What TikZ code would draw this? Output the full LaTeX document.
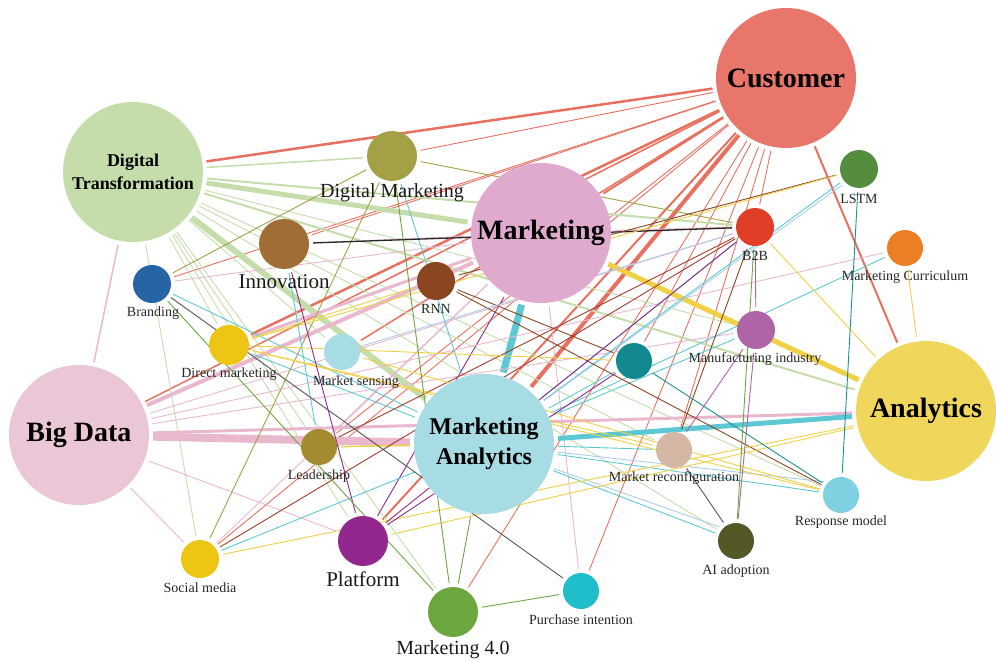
\documentclass[tikz,border=0pt]{standalone}
\usepackage{fontspec}
\setmainfont{Liberation Serif}
\pgfdeclarelayer{bg}
\pgfsetlayers{bg,main}
% node colours
\definecolor{nCust}{HTML}{E8766A}
\definecolor{nDT}{HTML}{C5DDAA}
\definecolor{nDM}{HTML}{A3A045}
\definecolor{nMkt}{HTML}{E0AACF}
\definecolor{nInn}{HTML}{A06D35}
\definecolor{nBrand}{HTML}{2764A4}
\definecolor{nRNN}{HTML}{8B4520}
\definecolor{nDmk}{HTML}{EDC515}
\definecolor{nMS}{HTML}{A7DCE5}
\definecolor{nBD}{HTML}{EBC6D6}
\definecolor{nLead}{HTML}{A38C30}
\definecolor{nMA}{HTML}{A8DCE5}
\definecolor{nSM}{HTML}{EDC515}
\definecolor{nPlat}{HTML}{92288E}
\definecolor{nMf}{HTML}{6BA73E}
\definecolor{nPI}{HTML}{20BDCB}
\definecolor{nAI}{HTML}{545826}
\definecolor{nRM}{HTML}{7FD0E0}
\definecolor{nMR}{HTML}{D5B7A5}
\definecolor{nMI}{HTML}{B064A8}
\definecolor{nTeal}{HTML}{128890}
\definecolor{nAna}{HTML}{F0D65A}
\definecolor{nB2B}{HTML}{E03E26}
\definecolor{nLSTM}{HTML}{558D3E}
\definecolor{nMC}{HTML}{EC7F26}
% edge colours
\definecolor{eRc}{HTML}{E8705F}
\definecolor{eGc}{HTML}{C5DDAA}
\definecolor{ePc}{HTML}{E9B8CF}
\definecolor{eCc}{HTML}{5BC8D3}
\definecolor{eYc}{HTML}{F0D045}
\definecolor{eOc}{HTML}{A3A045}
\definecolor{eBc}{HTML}{8B4520}
\definecolor{eDRc}{HTML}{A33B2A}
\definecolor{eVc}{HTML}{92288E}
\definecolor{eMc}{HTML}{B064A8}
\definecolor{eGrc}{HTML}{6BA73E}
\definecolor{eKc}{HTML}{555555}
\definecolor{eTc}{HTML}{1B8F94}
\definecolor{eLBc}{HTML}{A9CDE8}
\begin{document}
\begin{tikzpicture}[x=1pt,y=-1pt,
  nd/.style 2 args={circle,inner sep=0pt,draw=none,fill=#1,minimum size=#2},
  bigtxt/.style={font=\fontsize{28}{30}\selectfont\bfseries,align=center,text=black},
  lbls/.style={font=\fontsize{14}{16}\selectfont,inner sep=0pt,text=black!85},
  lblm/.style={font=\fontsize{21}{23}\selectfont,inner sep=0pt,text=black!90},
  ed/.style={line width=#1,shorten >=4pt,shorten <=4pt},
  ed/.default=0.9pt]
\useasboundingbox (0,0) rectangle (996,661);

% ---------------- nodes ----------------
\node[nd={nCust}{140pt},bigtxt] (cust) at (786,78) {Customer};
\node[nd={nDT}{140pt},font=\fontsize{18}{23}\selectfont\bfseries,align=center] (dt) at (133,172) {Digital\\Transformation};
\node[nd={nDM}{50pt}] (dm) at (392,156) {};
\node[nd={nMkt}{140pt},bigtxt] (mkt) at (541,233) {Marketing};
\node[nd={nInn}{50pt}] (inn) at (284,244) {};
\node[nd={nBrand}{38pt}] (brand) at (152,284) {};
\node[nd={nRNN}{38pt}] (rnn) at (436,281) {};
\node[nd={nDmk}{40pt}] (dmk) at (229,345) {};
\node[nd={nMS}{36pt}] (ms) at (342,352) {};
\node[nd={nBD}{140pt},bigtxt] (bd) at (79,435) {Big Data};
\node[nd={nLead}{36pt}] (lead) at (319,447) {};
\node[nd={nMA}{140pt},font=\fontsize{24}{30}\selectfont\bfseries,align=center] (ma) at (484,444) {Marketing\\Analytics};
\node[nd={nSM}{38pt}] (sm) at (200,559) {};
\node[nd={nPlat}{50pt}] (plat) at (363,541) {};
\node[nd={nMf}{50pt}] (m40) at (453,612) {};
\node[nd={nPI}{36pt}] (pi) at (581,591) {};
\node[nd={nAI}{36pt}] (ai) at (736,541) {};
\node[nd={nRM}{36pt}] (rm) at (841,495) {};
\node[nd={nMR}{36pt}] (mr) at (674,450) {};
\node[nd={nMI}{38pt}] (mi) at (756,330) {};
\node[nd={nTeal}{36pt}] (teal) at (634,361) {};
\node[nd={nAna}{140pt},bigtxt] (ana) at (926,411) {Analytics};
\node[nd={nB2B}{38pt}] (b2b) at (755,227) {};
\node[nd={nLSTM}{38pt}] (lstm) at (859,169) {};
\node[nd={nMC}{36pt}] (mc) at (905,248) {};

% ---------------- labels ----------------
\node[lblm,font=\fontsize{20}{22}\selectfont] (dmL) at (392,193) {Digital Marketing};
\node[lblm] (innL) at (284,282) {Innovation};
\node[lbls] (brandL) at (153,313) {Branding};
\node[lbls] (rnnL) at (436,309) {RNN};
\node[lbls] (dmkL) at (229,374) {Direct marketing};
\node[lbls] (msL) at (356,382) {Market sensing};
\node[lbls] (leadL) at (319,476) {Leadership};
\node[lbls] (smL) at (200,588) {Social media};
\node[lblm] (platL) at (363,579) {Platform};
\node[lblm,font=\fontsize{20}{22}\selectfont] (m40L) at (453,650) {Marketing 4.0};
\node[lbls] (piL) at (581,620) {Purchase intention};
\node[lbls] (aiL) at (736,571) {AI adoption};
\node[lbls] (rmL) at (841,522) {Response model};
\node[lbls] (mrL) at (674,478) {Market reconfiguration};
\node[lbls] (miL) at (755,359) {Manufacturing industry};
\node[lbls] (b2bL) at (755,256) {B2B};
\node[lbls] (lstmL) at (859,199) {LSTM};
\node[lbls] (mcL) at (905,277) {Marketing Curriculum};

% ---------------- edges ----------------
\begin{pgfonlayer}{bg}
% Customer
\draw[ed=2.5pt,eRc] (cust) -- (dt);
\draw[ed,eRc] (cust) -- (dm);
\draw[ed,eRc] (cust) -- (inn);
\draw[ed,eRc] (cust) -- (brand);
\draw[ed=2pt,eRc] (cust) -- (mkt);
\draw[ed=4pt,eRc] (cust) -- (ma);
\draw[ed=2pt,eRc] (cust) -- (ana);
\draw[ed,eRc] (cust) -- (b2b);
\draw[ed=1.5pt,eRc] (cust) -- (bd);
\draw[ed,eRc] (cust) -- (lead);
\draw[ed=2pt,eRc] (cust) -- (plat);
\draw[ed,eRc] (cust) -- (pi);
\draw[ed,eRc] (cust) -- (m40);
\draw[ed=1.5pt,eRc] (cust) -- (ms);
\draw[ed=2.5pt,eRc] (cust) -- (dmk);
\draw[ed,eRc] (cust) -- (teal);
\draw[ed,eRc] (cust) -- (mr);
\draw[ed,eRc] (cust) -- (sm);
% Digital Transformation
\draw[ed=1.5pt,eGc] (dt) -- (dm);
\draw[ed=5pt,eGc] (dt) -- (mkt);
\draw[ed=2pt,eGc] (dt) -- (b2b);
\draw[ed=6pt,eGc] (dt) -- (ma);
\draw[ed=2pt,eGc] (dt) -- (ana);
\draw[ed,eGc] (dt) -- (mi);
\draw[ed,eGc] (dt) -- (sm);
\draw[ed,eGc] (dt) -- (lead);
\draw[ed,eGc] (dt) -- (plat);
\draw[ed,eGc] (dt) -- (ms);
\draw[ed,eGc] (dt) -- (m40);
\draw[ed,eGc] (dt) -- (mr);
\draw[ed,eGc] (dt) -- (ai);
\draw[ed,eGc] (dt) -- (rm);
\draw[ed,eGc] (dt) -- (dmk);
% Marketing
\draw[ed=7pt,eCc] (mkt) -- (ma);
\draw[ed=5pt,eYc] (mkt) -- (ana);
\draw[ed=2pt,ePc] (mkt) -- (b2b);
\draw[ed,ePc] (mkt) -- (inn);
\draw[ed,ePc] (mkt) -- (brand);
\draw[ed=4pt,ePc] (mkt) -- (bd);
\draw[ed=3pt,ePc] (mkt) -- (dmk);
\draw[ed,ePc] (mkt) -- (lead);
\draw[ed,ePc] (mkt) -- (sm);
\draw[ed,ePc] (mkt) -- (pi);
\draw[ed,eVc] (mkt) -- (plat);
% Big Data
\draw[ed=8pt,ePc] (bd) -- (ma);
\draw[ed=3pt,ePc] (bd) -- (ana);
\draw[ed=1.5pt,ePc] (bd) -- (dt);
\draw[ed,ePc] (bd) -- (sm);
\draw[ed,ePc] (bd) -- (plat);
\draw[ed,ePc] (bd) -- (mc);
\draw[ed,ePc] (bd) -- (b2b);
\draw[ed,ePc] (bd) -- (mi);
% Marketing Analytics
\draw[ed=5pt,eCc] (ma) -- (ana);
\draw[ed,eCc] (ma) -- (b2b);
\draw[ed,eCc] (ma) -- (lstm);
\draw[ed,eCc] (ma) -- (mi);
\draw[ed,eCc] (ma) -- (mc);
\draw[ed,eCc] (ma) -- (rm);
\draw[ed,eCc] (ma) -- (ai);
\draw[ed,eCc] (ma) -- (mr);
\draw[ed,eCc] (ma) -- (teal);
\draw[ed,eCc] (ma) -- (dm);
\draw[ed,eCc] (ma) -- (brand);
\draw[ed,eCc] (ma) -- (sm);
\draw[ed,eCc] (ma) -- (dmk);
\draw[ed,eLBc] (ma) -- (lstm.south west);
\draw[ed,eLBc] (ma) -- (rm.north west);
\draw[ed,eLBc] (ma) -- (ai.north west);
\draw[ed=1.5pt,eYc] (lead) -- (ma);
\draw[ed,eGrc] (ma) -- (m40);
% Digital Marketing (olive)
\draw[ed,eOc] (dm) -- (brand);
\draw[ed,eOc] (dm) -- (sm);
\draw[ed,eOc] (dm) -- (b2b);
% Innovation
\draw[ed=1.3pt,black!85] (inn) -- (b2b);
\draw[ed,eCc] (inn) -- (lead);
% RNN
\draw[ed,eBc] (rnn) -- (lstm);
\draw[ed,eBc] (rnn) -- (rm);
\draw[ed,eBc] (rnn) -- (teal);
\draw[ed,eDRc] (sm) -- (b2b);
\draw[ed,eDRc] (lead) -- (b2b);
\draw[ed,eBc] (b2b) -- (mr);
% Analytics and yellow
\draw[ed,eYc] (ana) -- (b2b);
\draw[ed,eYc] (ana) -- (mc);
\draw[ed,eYc] (ana) -- (plat);
\draw[ed,eYc] (ana) -- (sm);
\draw[ed,eYc] (dmk) -- (lstm);
\draw[ed,eYc] (dmk) -- (rnn);
\draw[ed,eYc] (dmk) -- (teal);
\draw[ed,eYc] (dmk) -- (rm);
\draw[ed,eYc] (dmk) -- (mr);
\draw[ed,eYc] (ms) -- (rm);
% Platform
\draw[ed,eVc] (plat) -- (inn);
\draw[ed,eVc] (plat) -- (b2b);
\draw[ed,eVc] (plat) -- (teal);
% Manufacturing industry
\draw[ed,eMc] (mi) -- (b2b);
\draw[ed,eMc] (mi) -- (mr);
\draw[ed,eMc] (mi) -- (ai);
% green
\draw[ed,eGrc] (brand) -- (m40);
\draw[ed,eGrc] (dm) -- (m40);
\draw[ed,eGrc] (pi) -- (m40);
\draw[ed,eGrc] (b2b) -- (ai);
% grey
\draw[ed,eKc] (brand) -- (pi);
\draw[ed,eKc] (mr) -- (ai);
% teal
\draw[ed,eTc] (teal) -- (rm);
\draw[ed,eTc] (lstm) -- (rm);
% light blue
\draw[ed,eLBc] (ms) -- (b2b);
\end{pgfonlayer}
\end{tikzpicture}
\end{document}
